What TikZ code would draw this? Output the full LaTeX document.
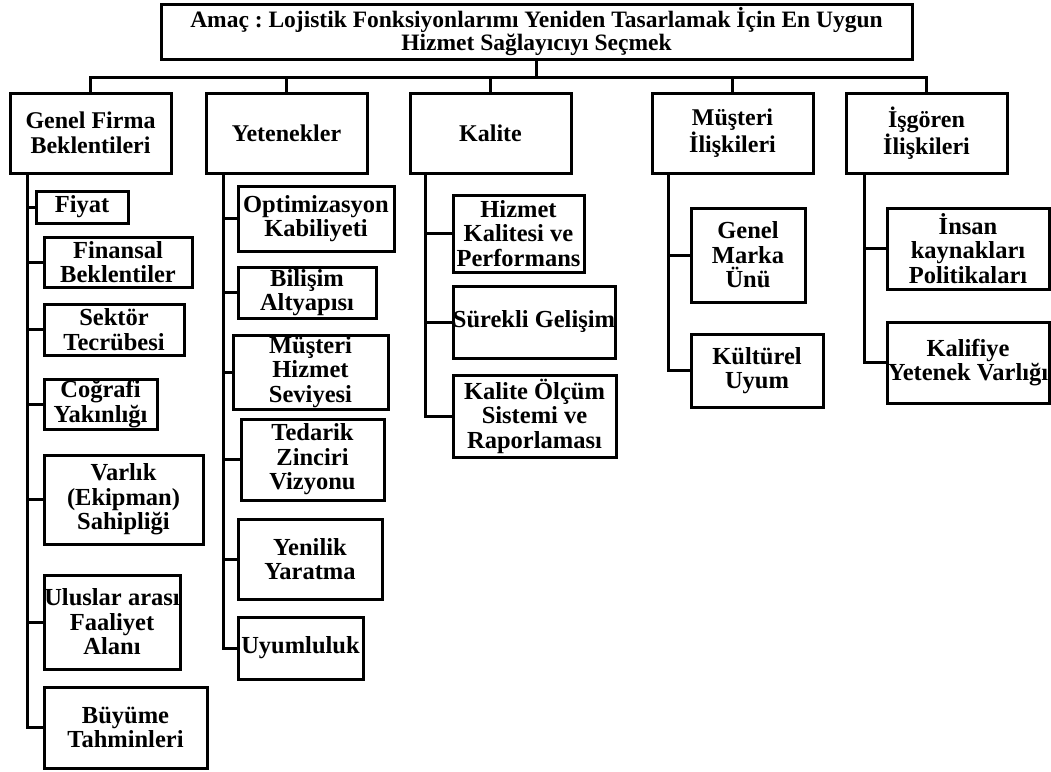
\documentclass[tikz,border=0pt]{standalone}
\usepackage{fontspec}
\setmainfont{Liberation Serif}
\frenchspacing

% \mkbox{name}{x1}{y1}{x2}{y2}{text}: framed box given by its corners, text centred in it
\newcommand\mkbox[7][txt]{%
  \node[boxst, minimum width={(#5-#3)*1pt}, minimum height={(#6-#4)*1pt}]
    (#2) at ({(#3+#5)/2},{(#4+#6)/2}) {};
  \node[#1] (#2-t) at (#2.center) {#7};
}

\begin{document}
\begin{tikzpicture}[x=1pt, y=-1pt,
  boxst/.style={draw=black, line width=3pt, inner sep=0pt, outer sep=0pt},
  txt/.style={align=center, inner sep=0pt, font=\bfseries\fontsize{24.5}{24.5}\selectfont},
  cattxt/.style={align=center, inner sep=0pt, font=\bfseries\fontsize{24}{25}\selectfont},
  toptxt/.style={align=center, inner sep=0pt, font=\bfseries\fontsize{23.5}{23}\selectfont},
  link/.style={draw=black, line width=3pt}]
\useasboundingbox[fill=white] (0,0) rectangle (1051,771);

% goal
\node[boxst, minimum width=751pt, minimum height=55pt] (goal) at (536.5,32) {};
\node[toptxt] (goal-t) at (goal.center)
  {Amaç : Lojistik Fonksiyonlarımı Yeniden Tasarlamak İçin En Uygun\\Hizmet Sağlayıcıyı Seçmek};

% criteria
\mkbox[cattxt]{c1}{10}{93}{171}{173}{Genel Firma\\Beklentileri}
\mkbox[cattxt]{c2}{206}{93}{367}{173}{Yetenekler}
\mkbox[cattxt]{c3}{410}{93}{571}{173}{Kalite}
\mkbox[cattxt]{c4}{652}{93}{813}{173}{Müşteri\\İlişkileri}
\mkbox[cattxt]{c5}{846}{93}{1007}{173}{İşgören\\İlişkileri}

% Genel Firma Beklentileri
\mkbox{f1}{36}{191}{128}{223}{Fiyat}
\mkbox{f2}{44}{237}{192}{287}{Finansal\\Beklentiler}
\mkbox{f3}{44}{304}{184}{355}{Sektör\\Tecrübesi}
\mkbox{f4}{44}{379}{157}{429}{Coğrafi\\Yakınlığı}
\mkbox{f5}{44}{455}{203}{544}{Varlık\\(Ekipman)\\Sahipliği}
\mkbox{f6}{44}{575}{180}{669}{Uluslar arası\\Faaliyet\\Alanı}
\mkbox{f7}{44}{687}{207}{768}{Büyüme\\Tahminleri}

% Yetenekler
\mkbox{y1}{238}{186}{394}{251}{Optimizasyon\\Kabiliyeti}
\mkbox{y2}{238}{267}{376}{318}{Bilişim\\Altyapısı}
\mkbox{y3}{233}{335}{388}{409}{Müşteri\\Hizmet\\Seviyesi}
\mkbox{y4}{241}{419}{384}{500}{Tedarik\\Zinciri\\Vizyonu}
\mkbox{y5}{238}{519}{382}{599}{Yenilik\\Yaratma}
\mkbox{y6}{238}{617}{363}{679}{Uyumluluk}

% Kalite
\mkbox{k1}{453}{195}{584}{272}{Hizmet\\Kalitesi ve\\Performans}
\mkbox{k2}{453}{286}{615}{358}{Sürekli Gelişim}
\mkbox{k3}{453}{375}{616}{457}{Kalite Ölçüm\\Sistemi ve\\Raporlaması}

% Müşteri İlişkileri
\mkbox{m1}{691}{208}{805}{302}{Genel\\Marka\\Ünü}
\mkbox{m2}{691}{334}{823}{407}{Kültürel\\Uyum}

% İşgören İlişkileri
\mkbox{i1}{887}{208}{1049}{289}{İnsan\\kaynakları\\Politikaları}
\mkbox{i2}{887}{322}{1049}{403}{Kalifiye\\Yetenek Varlığı}

% bus from the goal to the criteria
\coordinate (bus) at (536.5,77);
\draw[link] (goal.south) -- (goal.south |- bus);
\draw[link] (c1.north) -- (c1.north |- bus) -- (c5.north |- bus) -- (c5.north);
\foreach \c in {c2,c3,c4} \draw[link] (\c.north |- bus) -- (\c.north);

% trunks below each criterion
\path ([xshift=17pt]c1.south west) coordinate (t1)
      ([xshift=17pt]c2.south west) coordinate (t2)
      ([xshift=15pt]c3.south west) coordinate (t3)
      ([xshift=16pt]c4.south west) coordinate (t4)
      ([xshift=18pt]c5.south west) coordinate (t5);

\draw[link] (t1) |- (f7.west);
\foreach \n in {f1,f2,f3,f4,f5,f6} \draw[link] (t1 |- \n.west) -- (\n.west);

\draw[link] (t2) |- (y6.west);
\foreach \n in {y1,y2,y3,y4,y5} \draw[link] (t2 |- \n.west) -- (\n.west);

\draw[link] (t3) |- (k3.west);
\foreach \n in {k1,k2} \draw[link] (t3 |- \n.west) -- (\n.west);

\draw[link] (t4) |- (m2.west);
\draw[link] (t4 |- m1.west) -- (m1.west);

\draw[link] (t5) |- (i2.west);
\draw[link] (t5 |- i1.west) -- (i1.west);
\end{tikzpicture}
\end{document}
